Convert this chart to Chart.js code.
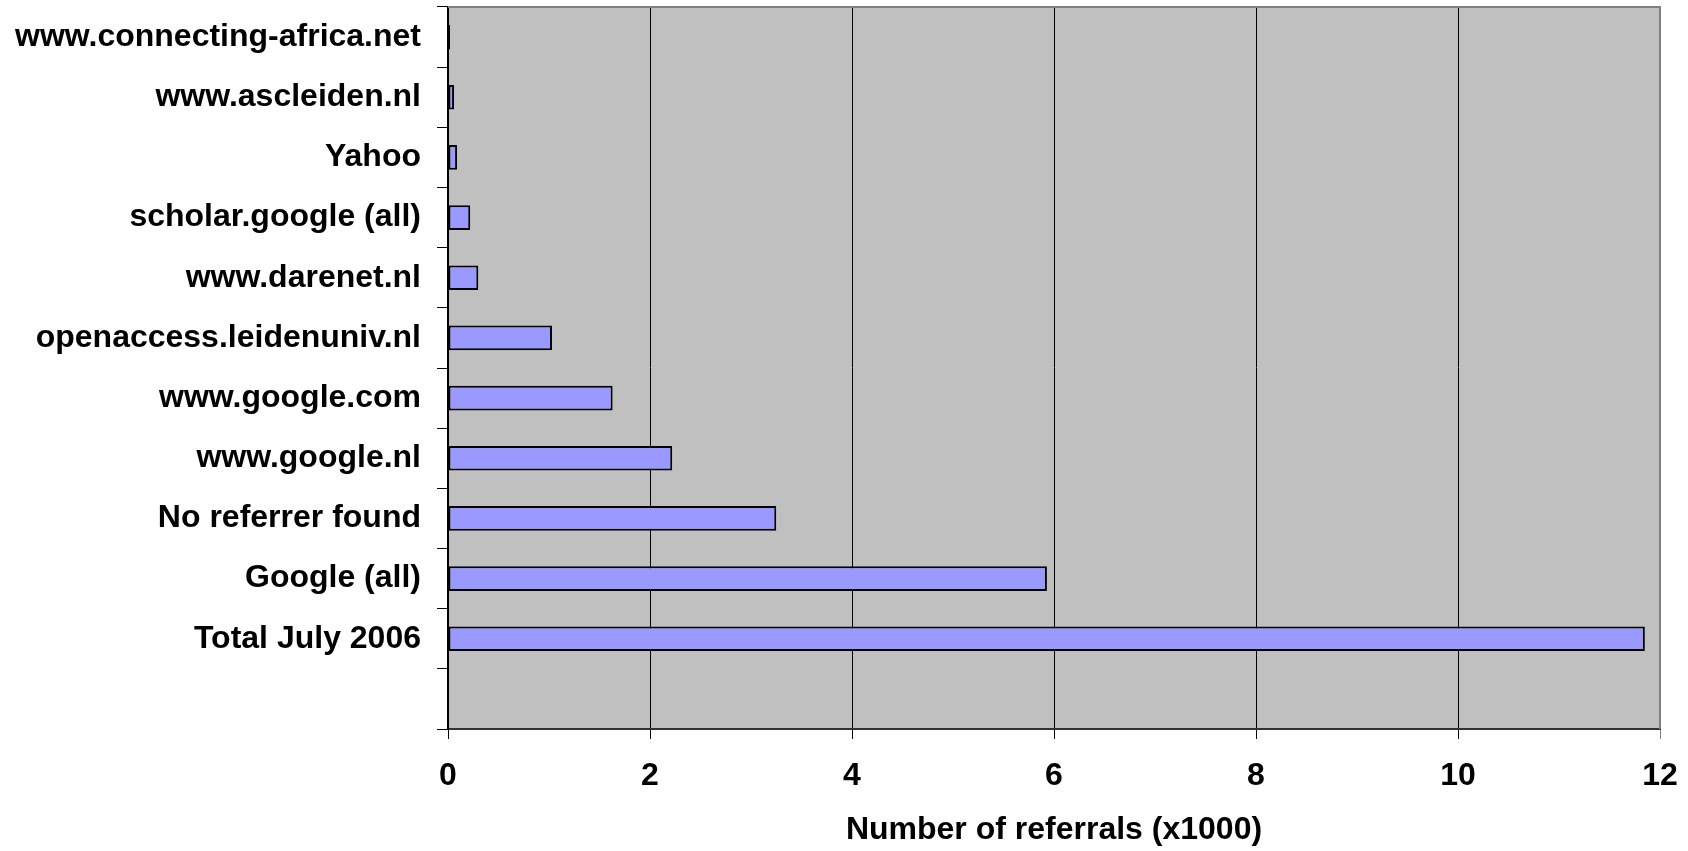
<!DOCTYPE html>
<html>
<head>
<meta charset="utf-8">
<script src="https://cdn.jsdelivr.net/npm/chart.js@4.4.0/dist/chart.umd.min.js"></script>
<style>
	html, body { margin: 0; padding: 0; background: #fff; }
	.chart-box { width: 1688px; height: 851px; position: relative; }
</style>
</head>
<body>
<div class="chart-box"><canvas id="referrals"></canvas></div>
<script>
const categories = [
	'www.connecting-africa.net',
	'www.ascleiden.nl',
	'Yahoo',
	'scholar.google (all)',
	'www.darenet.nl',
	'openaccess.leidenuniv.nl',
	'www.google.com',
	'www.google.nl',
	'No referrer found',
	'Google (all)',
	'Total July 2006',
	'',
];
const referrals = [0.02, 0.06, 0.09, 0.22, 0.30, 1.03, 1.63, 2.22, 3.25, 5.93, 11.85, null];
const xTicks = [0, 2, 4, 6, 8, 10, 12];
const xTitle = 'Number of referrals (x1000)';

// grey plot area with a grey frame, like the old spreadsheet chart
const plotBackground = {
	id: 'plotBackground',
	beforeDraw(chart) {
		const { ctx, chartArea: a } = chart;
		ctx.save();
		ctx.fillStyle = '#C0C0C0';
		ctx.fillRect(a.left, a.top, a.right - a.left, a.bottom - a.top);
		ctx.restore();
	},
	afterDatasetsDraw(chart) {
		const { ctx, chartArea: a } = chart;
		ctx.save();
		ctx.strokeStyle = '#808080';
		ctx.lineWidth = 2;
		ctx.beginPath();
		ctx.moveTo(a.left, a.top);
		ctx.lineTo(a.right, a.top);
		ctx.lineTo(a.right, a.bottom);
		ctx.stroke();
		ctx.restore();
	},
};

const font = { family: 'Liberation Sans, Arial, sans-serif', size: 32, weight: 'bold' };

new Chart(document.getElementById('referrals'), {
	type: 'bar',
	data: {
		labels: categories,
		datasets: [
			{
				data: referrals,
				backgroundColor: '#9999FF',
				borderColor: '#000000',
				borderWidth: 2,
				borderSkipped: false,
				barPercentage: 0.41,
				categoryPercentage: 1,
			},
		],
	},
	options: {
		indexAxis: 'y',
		responsive: true,
		maintainAspectRatio: false,
		devicePixelRatio: 1,
		animation: false,
		layout: {
			padding: { top: 7, right: 28, left: 0, bottom: 0 },
		},
		plugins: {
			legend: { display: false },
			tooltip: { enabled: false },
		},
		scales: {
			x: {
				type: 'linear',
				min: 0,
				max: 12,
				afterBuildTicks: (scale) => {
					scale.ticks = xTicks.map((v) => ({ value: v }));
				},
				afterFit: (scale) => {
					scale.height = 122;
					scale.paddingLeft = 0;
					scale.paddingRight = 0;
				},
				grid: {
					color: (c) => (c.tick && c.tick.value === 12 ? '#808080' : '#000000'),
					lineWidth: 1,
					tickLength: 10,
				},
				border: { color: '#333333', width: 2 },
				ticks: {
					color: '#000',
					font: font,
					padding: 18,
					maxRotation: 0,
				},
				title: {
					display: true,
					text: xTitle,
					color: '#000',
					font: font,
					padding: { top: 2, bottom: 2 },
				},
			},
			y: {
				afterFit: (scale) => {
					scale.width = 448;
					scale.paddingTop = 0;
					scale.paddingBottom = 0;
				},
				grid: {
					offset: true,
					drawOnChartArea: false,
					color: '#000000',
					tickLength: 11,
				},
				border: { color: '#000000', width: 2 },
				ticks: {
					color: '#000',
					font: font,
					padding: 16,
				},
			},
		},
	},
	plugins: [plotBackground],
});
</script>
</body>
</html>
